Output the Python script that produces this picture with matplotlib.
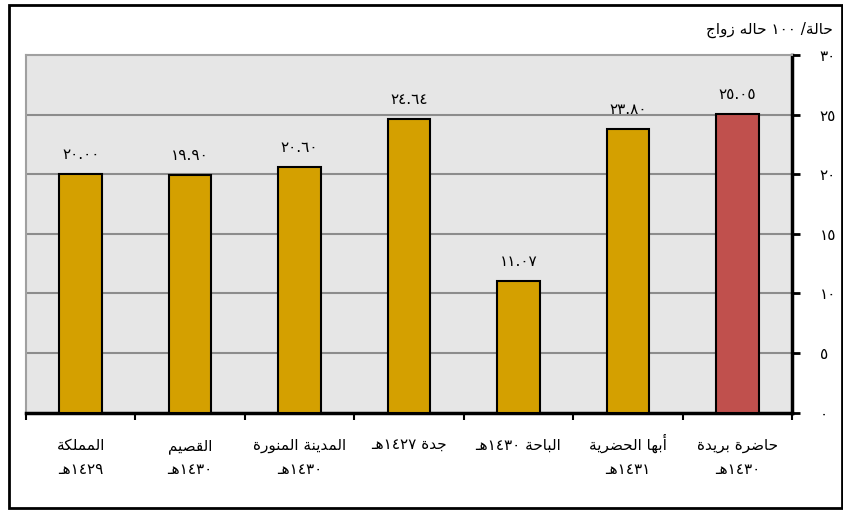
import re
import matplotlib
matplotlib.use('Agg')
import matplotlib.pyplot as plt
from matplotlib.patches import Rectangle
from matplotlib.transforms import blended_transform_factory

# data
categories = ['المملكة\n١٤٢٩هـ', 'القصيم\n١٤٣٠هـ', 'المدينة المنورة\n١٤٣٠هـ',
              'جدة ١٤٢٧هـ', 'الباحة ١٤٣٠هـ', 'أبها الحضرية\n١٤٣١هـ', 'حاضرة بريدة\n١٤٣٠هـ']
values = [20.00, 19.90, 20.60, 24.64, 11.07, 23.80, 25.05]
bar_colors = ['#D4A000'] * 6 + ['#C0504D']
yticks = [0, 5, 10, 15, 20, 25, 30]
unit_label = 'حالة/ ١٠٠ حاله زواج'

# presentation forms: isolated, final, initial, medial
FORMS = {
    'ا': (0xFE8D, 0xFE8E, None, None), 'أ': (0xFE83, 0xFE84, None, None),
    'ب': (0xFE8F, 0xFE90, 0xFE91, 0xFE92), 'ة': (0xFE93, 0xFE94, None, None),
    'ج': (0xFE9D, 0xFE9E, 0xFE9F, 0xFEA0), 'ح': (0xFEA1, 0xFEA2, 0xFEA3, 0xFEA4),
    'د': (0xFEA9, 0xFEAA, None, None), 'ر': (0xFEAD, 0xFEAE, None, None),
    'ز': (0xFEAF, 0xFEB0, None, None), 'ص': (0xFEB9, 0xFEBA, 0xFEBB, 0xFEBC),
    'ض': (0xFEBD, 0xFEBE, 0xFEBF, 0xFEC0), 'ق': (0xFED5, 0xFED6, 0xFED7, 0xFED8),
    'ك': (0xFED9, 0xFEDA, 0xFEDB, 0xFEDC), 'ل': (0xFEDD, 0xFEDE, 0xFEDF, 0xFEE0),
    'م': (0xFEE1, 0xFEE2, 0xFEE3, 0xFEE4), 'ن': (0xFEE5, 0xFEE6, 0xFEE7, 0xFEE8),
    'ه': (0xFEE9, 0xFEEA, 0xFEEB, 0xFEEC), 'و': (0xFEED, 0xFEEE, None, None),
    'ي': (0xFEF1, 0xFEF2, 0xFEF3, 0xFEF4),
}
TATWEEL = 'ـ'


def dual(c):
    return c == TATWEEL or (c in FORMS and FORMS[c][2] is not None)


def shape_line(s):
    out = []
    for i, c in enumerate(s):
        if c not in FORMS:
            out.append(c)
            continue
        prev = s[i - 1] if i > 0 else ''
        nxt = s[i + 1] if i < len(s) - 1 else ''
        jp = prev != '' and dual(prev)
        jn = dual(c) and (nxt in FORMS or nxt == TATWEEL)
        iso, fin, ini, med = FORMS[c]
        code = med if (jp and jn) else fin if jp else ini if jn else iso
        out.append(chr(code))
    # visual order, number runs stay left to right
    tokens = re.findall(r'[\u0660-\u0669.]+|.', ''.join(out))
    return ''.join(reversed(tokens))


def ar_digits(s):
    return s.translate(str.maketrans('0123456789', '٠١٢٣٤٥٦٧٨٩'))


plt.rcParams['font.family'] = ['DejaVu Sans']

fig = plt.figure(figsize=(8.43, 5.11), dpi=100)
ax = fig.add_axes([26 / 843, 1 - 412.5 / 511, 766 / 843, 357.5 / 511])
ax.set_facecolor('#E6E6E6')

x = list(range(len(values)))
ax.bar(x, values, width=0.39, color=bar_colors, edgecolor='black', linewidth=1.5, zorder=3)
for xi, v in zip(x, values):
    ax.text(xi, v + 1.0, ar_digits(f'{v:.2f}'), ha='center', va='bottom', fontsize=11)

ax.set_xlim(-0.5, len(values) - 0.5)
ax.set_ylim(0, 30)
for t in yticks[1:-1]:
    ax.axhline(t, color='#8C8C8C', lw=1.5, zorder=1)

ax.yaxis.tick_right()
ax.set_yticks(yticks)
ax.set_yticklabels([ar_digits(str(t)) for t in yticks], fontsize=11)
ax.tick_params(axis='y', direction='out', length=6, width=2, pad=14)
for lab in ax.get_yticklabels():
    lab.set_horizontalalignment('left')

# category labels, one text per line so the baselines line up
ax.set_xticks([])
ax.set_xticks([i - 0.5 for i in range(len(values) + 1)], minor=True)
ax.tick_params(axis='x', which='minor', direction='out', length=5, width=1.5)
trans = blended_transform_factory(ax.transData, fig.transFigure)
line_base = [1 - 450 / 511, 1 - 474 / 511]
for xi, cat in zip(x, categories):
    for k, line in enumerate(cat.split('\n')):
        ax.text(xi, line_base[k], shape_line(line), transform=trans,
                ha='center', va='baseline', fontsize=11)

for side in ['top', 'left']:
    ax.spines[side].set_color('#A0A0A0')
    ax.spines[side].set_linewidth(1.5)
for side in ['right', 'bottom']:
    ax.spines[side].set_color('black')
    ax.spines[side].set_linewidth(2.5)

fig.text(833 / 843, 1 - 30 / 511, shape_line(unit_label), ha='right', va='center', fontsize=11)
fig.patches.append(Rectangle((9 / 843, 3 / 511), 833 / 843, 503 / 511, transform=fig.transFigure,
                             fill=False, edgecolor='black', linewidth=2))

fig.savefig('out.png', dpi=100)
